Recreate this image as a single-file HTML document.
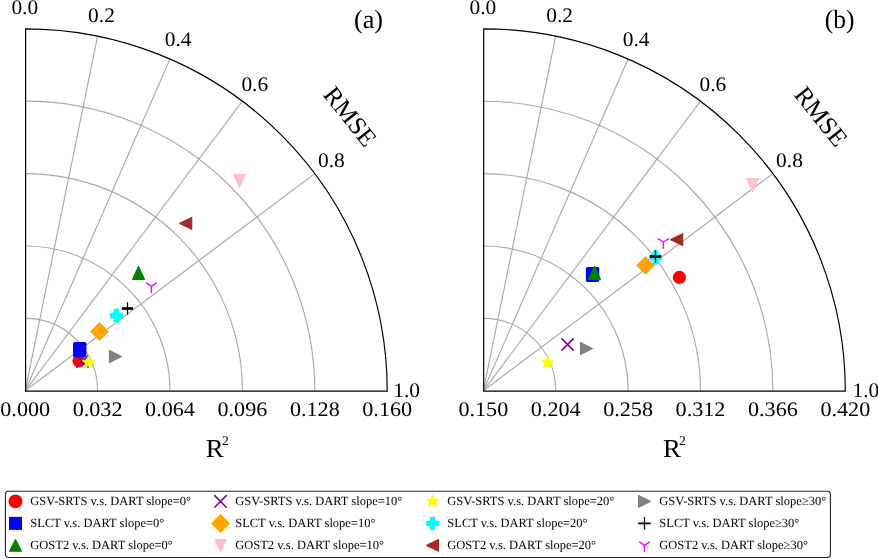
<!DOCTYPE html>
<html><head><meta charset="utf-8"><title>chart</title>
<style>
html,body{margin:0;padding:0;background:#fff;}
svg{display:block;will-change:transform;transform:translateZ(0)}
.g{stroke:#aaaaaa;stroke-width:1.15;fill:none}
.o{stroke:#000;stroke-width:1.2;fill:none}
.t{font-family:"Liberation Serif",serif;font-size:20.6px;fill:#000;text-rendering:geometricPrecision}
.l{font-family:"Liberation Serif",serif;font-size:12.5px;fill:#000;text-rendering:geometricPrecision}
</style></head><body>
<svg width="878" height="559" viewBox="0 0 878 559">
<rect width="878" height="559" fill="#fff"/>
<path d="M97.60,390.80 A72.40,72.40 0 0 0 25.20,318.40" class="g"/>
<path d="M170.00,390.80 A144.80,144.80 0 0 0 25.20,246.00" class="g"/>
<path d="M242.40,390.80 A217.20,217.20 0 0 0 25.20,173.60" class="g"/>
<path d="M314.80,390.80 A289.60,289.60 0 0 0 25.20,101.20" class="g"/>
<line x1="25.20" y1="390.80" x2="97.60" y2="36.11" class="g"/>
<line x1="25.20" y1="390.80" x2="170.00" y2="59.02" class="g"/>
<line x1="25.20" y1="390.80" x2="242.40" y2="101.20" class="g"/>
<line x1="25.20" y1="390.80" x2="314.80" y2="173.60" class="g"/>
<path d="M25.60,28.80 L25.60,391.10 L387.20,391.10 A362.0,362.0 0 0 0 25.60,28.80 Z" class="o"/>
<text transform="translate(24.8,13.9) scale(1.04,1)" class="t" text-anchor="middle">0.0</text>
<text transform="translate(101.5,21.6) scale(1.04,1)" class="t" text-anchor="middle">0.2</text>
<text transform="translate(178.1,45.9) scale(1.04,1)" class="t" text-anchor="middle">0.4</text>
<text transform="translate(254.8,90.6) scale(1.04,1)" class="t" text-anchor="middle">0.6</text>
<text transform="translate(331.4,167.2) scale(1.04,1)" class="t" text-anchor="middle">0.8</text>
<text transform="translate(406.6,396.6) scale(1.04,1)" class="t" text-anchor="middle">1.0</text>
<text transform="translate(25.2,415.6) scale(1.075,1)" class="t" text-anchor="middle">0.000</text>
<text transform="translate(97.6,415.6) scale(1.075,1)" class="t" text-anchor="middle">0.032</text>
<text transform="translate(170.0,415.6) scale(1.075,1)" class="t" text-anchor="middle">0.064</text>
<text transform="translate(242.4,415.6) scale(1.075,1)" class="t" text-anchor="middle">0.096</text>
<text transform="translate(314.8,415.6) scale(1.075,1)" class="t" text-anchor="middle">0.128</text>
<text transform="translate(387.2,415.6) scale(1.075,1)" class="t" text-anchor="middle">0.160</text>
<text transform="translate(205.8,457.1) scale(1.03,1)" class="t" style="font-size:26px">R<tspan dy="-12.6" dx="-1.7" style="font-size:13.2px">2</tspan></text>
<text transform="translate(350.1,116.6) rotate(51.5)" class="t" text-anchor="middle" style="font-size:25.2px" dy="8.3">RMSE</text>
<text transform="translate(368.5,28.3) scale(1.0,1)" class="t" text-anchor="middle" style="font-size:26.3px">(a)</text>
<path d="M555.70,390.80 A72.40,72.40 0 0 0 483.30,318.40" class="g"/>
<path d="M628.10,390.80 A144.80,144.80 0 0 0 483.30,246.00" class="g"/>
<path d="M700.50,390.80 A217.20,217.20 0 0 0 483.30,173.60" class="g"/>
<path d="M772.90,390.80 A289.60,289.60 0 0 0 483.30,101.20" class="g"/>
<line x1="483.30" y1="390.80" x2="555.70" y2="36.11" class="g"/>
<line x1="483.30" y1="390.80" x2="628.10" y2="59.02" class="g"/>
<line x1="483.30" y1="390.80" x2="700.50" y2="101.20" class="g"/>
<line x1="483.30" y1="390.80" x2="772.90" y2="173.60" class="g"/>
<path d="M483.70,28.80 L483.70,391.10 L845.30,391.10 A362.0,362.0 0 0 0 483.70,28.80 Z" class="o"/>
<text transform="translate(482.9,13.9) scale(1.04,1)" class="t" text-anchor="middle">0.0</text>
<text transform="translate(559.6,21.6) scale(1.04,1)" class="t" text-anchor="middle">0.2</text>
<text transform="translate(636.2,45.9) scale(1.04,1)" class="t" text-anchor="middle">0.4</text>
<text transform="translate(712.9,90.6) scale(1.04,1)" class="t" text-anchor="middle">0.6</text>
<text transform="translate(789.5,167.2) scale(1.04,1)" class="t" text-anchor="middle">0.8</text>
<text transform="translate(865.9,396.6) scale(1.04,1)" class="t" text-anchor="middle">1.0</text>
<text transform="translate(483.3,415.6) scale(1.075,1)" class="t" text-anchor="middle">0.150</text>
<text transform="translate(555.7,415.6) scale(1.075,1)" class="t" text-anchor="middle">0.204</text>
<text transform="translate(628.1,415.6) scale(1.075,1)" class="t" text-anchor="middle">0.258</text>
<text transform="translate(700.5,415.6) scale(1.075,1)" class="t" text-anchor="middle">0.312</text>
<text transform="translate(772.9,415.6) scale(1.075,1)" class="t" text-anchor="middle">0.366</text>
<text transform="translate(845.3,415.6) scale(1.075,1)" class="t" text-anchor="middle">0.420</text>
<text transform="translate(663.0,457.1) scale(1.03,1)" class="t" style="font-size:26px">R<tspan dy="-12.6" dx="-1.7" style="font-size:13.2px">2</tspan></text>
<text transform="translate(821.0,116.6) rotate(51.5)" class="t" text-anchor="middle" style="font-size:25.2px" dy="8.3">RMSE</text>
<text transform="translate(839.6,28.3) scale(0.97,1)" class="t" text-anchor="middle" style="font-size:26.3px">(b)</text>
<circle cx="79" cy="360.8" r="6.6" fill="#ff0000"/>
<path d="M76.9,355.9 L88.1,367.1 M76.9,367.1 L88.1,355.9" stroke="#800080" stroke-width="1.5" stroke-linecap="round" fill="none"/>
<polygon points="88.50,356.20 90.03,360.29 94.40,360.48 90.98,363.20 92.14,367.42 88.50,365.00 84.86,367.42 86.02,363.20 82.60,360.48 86.97,360.29" fill="#ffff00" stroke="#ffff00" stroke-width="1.3" stroke-linejoin="round"/>
<polygon points="121.50,356.50 109.50,350.60 109.50,362.40" fill="#808080" stroke="#808080" stroke-width="1.2" stroke-linejoin="round"/>
<rect x="73.00" y="342.00" width="13.4" height="15.0" rx="1.6" fill="#0000ff"/>
<polygon points="99.5,322.5 108.5,331.5 99.5,340.5 90.5,331.5" fill="#ffa500" stroke="#ffa500" stroke-width="0.8" stroke-linejoin="round"/>
<rect x="113.60" y="308.20" width="5.8" height="14.6" rx="2.6" fill="#00ffff"/><rect x="109.70" y="312.50" width="13.6" height="6.0" rx="2.6" fill="#00ffff"/>
<path d="M121.9,308.5 L133.1,308.5" stroke="#000" stroke-width="2.7" fill="none"/><path d="M127.5,302.2 L127.5,314.8" stroke="#000" stroke-width="1.2" fill="none"/>
<polygon points="138.50,266.50 144.40,279.30 132.60,279.30" fill="#008000" stroke="#008000" stroke-width="1.2" stroke-linejoin="round"/>
<polygon points="239.50,187.40 245.40,174.60 233.60,174.60" fill="#ffc0cb" stroke="#ffc0cb" stroke-width="1.2" stroke-linejoin="round"/>
<polygon points="179.70,223.40 191.70,217.50 191.70,229.30" fill="#a52a2a" stroke="#a52a2a" stroke-width="1.2" stroke-linejoin="round"/>
<path d="M151.4,286.4 L151.4,292.59999999999997 M151.4,286.4 L146.4,283.2 M151.4,286.4 L156.4,283.2" stroke="#ff00ff" stroke-width="1.4" stroke-linecap="round" fill="none"/>
<circle cx="679.4" cy="277.3" r="6.6" fill="#ff0000"/>
<path d="M562.0,338.9 L573.2,350.1 M562.0,350.1 L573.2,338.9" stroke="#800080" stroke-width="1.5" stroke-linecap="round" fill="none"/>
<polygon points="547.50,356.50 549.03,360.59 553.40,360.78 549.98,363.50 551.14,367.72 547.50,365.30 543.86,367.72 545.02,363.50 541.60,360.78 545.97,360.59" fill="#ffff00" stroke="#ffff00" stroke-width="1.3" stroke-linejoin="round"/>
<polygon points="592.50,348.50 580.50,342.60 580.50,354.40" fill="#808080" stroke="#808080" stroke-width="1.2" stroke-linejoin="round"/>
<rect x="585.90" y="267.00" width="13.4" height="15.0" rx="1.6" fill="#0000ff"/>
<polygon points="645.5,256.4 654.5,265.4 645.5,274.4 636.5,265.4" fill="#ffa500" stroke="#ffa500" stroke-width="0.8" stroke-linejoin="round"/>
<rect x="652.60" y="250.10" width="5.8" height="14.6" rx="2.6" fill="#00ffff"/><rect x="648.70" y="254.40" width="13.6" height="6.0" rx="2.6" fill="#00ffff"/>
<path d="M649.9,256.5 L661.1,256.5" stroke="#000" stroke-width="2.7" fill="none"/><path d="M655.5,250.2 L655.5,262.8" stroke="#000" stroke-width="1.2" fill="none"/>
<polygon points="594.50,266.50 600.40,279.30 588.60,279.30" fill="#008000" stroke="#008000" stroke-width="1.2" stroke-linejoin="round"/>
<polygon points="752.60,191.40 758.50,178.60 746.70,178.60" fill="#ffc0cb" stroke="#ffc0cb" stroke-width="1.2" stroke-linejoin="round"/>
<polygon points="670.70,239.60 682.70,233.70 682.70,245.50" fill="#a52a2a" stroke="#a52a2a" stroke-width="1.2" stroke-linejoin="round"/>
<path d="M663.4,242 L663.4,248.2 M663.4,242 L658.4,238.8 M663.4,242 L668.4,238.8" stroke="#ff00ff" stroke-width="1.4" stroke-linecap="round" fill="none"/>
<rect x="5.4" y="491.3" width="825" height="66.2" rx="3" fill="#fff" stroke="#262626" stroke-width="1.1"/>
<circle cx="15.5" cy="501.4" r="7.0" fill="#ff0000"/>
<text transform="translate(30.3,505.0) scale(1.0,1)" class="l">GSV-SRTS v.s. DART slope=0°</text>
<path d="M214.7,495.59999999999997 L226.3,507.2 M214.7,507.2 L226.3,495.59999999999997" stroke="#800080" stroke-width="1.5" stroke-linecap="round" fill="none"/>
<text transform="translate(235.2,505.0) scale(1.0,1)" class="l">GSV-SRTS v.s. DART slope=10°</text>
<polygon points="432.60,495.30 434.11,499.33 438.40,499.51 435.04,502.19 436.19,506.34 432.60,503.96 429.01,506.34 430.16,502.19 426.80,499.51 431.09,499.33" fill="#ffff00" stroke="#ffff00" stroke-width="1.3" stroke-linejoin="round"/>
<text transform="translate(447.3,505.0) scale(1.0,1)" class="l">GSV-SRTS v.s. DART slope=20°</text>
<polygon points="650.40,501.40 638.60,495.55 638.60,507.25" fill="#808080" stroke="#808080" stroke-width="1.2" stroke-linejoin="round"/>
<text transform="translate(659.3,505.0) scale(1.0,1)" class="l">GSV-SRTS v.s. DART slope≥30°</text>
<rect x="9.0" y="516.9" width="13" height="13" fill="#0000ff"/>
<text transform="translate(30.3,527.0) scale(1.0,1)" class="l">SLCT v.s. DART slope=0°</text>
<polygon points="220.5,514.3 229.6,523.4 220.5,532.5 211.4,523.4" fill="#ffa500" stroke="#ffa500" stroke-width="0.8" stroke-linejoin="round"/>
<text transform="translate(235.2,527.0) scale(1.0,1)" class="l">SLCT v.s. DART slope=10°</text>
<rect x="429.90" y="516.70" width="5.4" height="13.4" rx="1" fill="#00ffff"/><rect x="425.80" y="520.70" width="13.6" height="5.4" rx="1" fill="#00ffff"/>
<text transform="translate(447.3,527.0) scale(1.0,1)" class="l">SLCT v.s. DART slope=20°</text>
<path d="M638.2,523.4 L650.8,523.4" stroke="#000" stroke-width="1.7" fill="none"/><path d="M644.5,517.1 L644.5,529.6999999999999" stroke="#000" stroke-width="1.3" fill="none"/>
<text transform="translate(659.3,527.0) scale(1.0,1)" class="l">SLCT v.s. DART slope≥30°</text>
<polygon points="15.50,539.55 21.40,551.25 9.60,551.25" fill="#008000" stroke="#008000" stroke-width="1.2" stroke-linejoin="round"/>
<text transform="translate(30.3,549.0) scale(1.0,1)" class="l">GOST2 v.s. DART slope=0°</text>
<polygon points="220.50,551.25 226.40,539.55 214.60,539.55" fill="#ffc0cb" stroke="#ffc0cb" stroke-width="1.2" stroke-linejoin="round"/>
<text transform="translate(235.2,549.0) scale(1.0,1)" class="l">GOST2 v.s. DART slope=10°</text>
<polygon points="426.70,545.40 438.50,539.55 438.50,551.25" fill="#a52a2a" stroke="#a52a2a" stroke-width="1.2" stroke-linejoin="round"/>
<text transform="translate(447.3,549.0) scale(1.0,1)" class="l">GOST2 v.s. DART slope=20°</text>
<path d="M644.5,545.4 L644.5,551.6 M644.5,545.4 L639.5,542.1999999999999 M644.5,545.4 L649.5,542.1999999999999" stroke="#ff00ff" stroke-width="1.4" stroke-linecap="round" fill="none"/>
<text transform="translate(659.3,549.0) scale(1.0,1)" class="l">GOST2 v.s. DART slope≥30°</text>
</svg>
</body></html>
